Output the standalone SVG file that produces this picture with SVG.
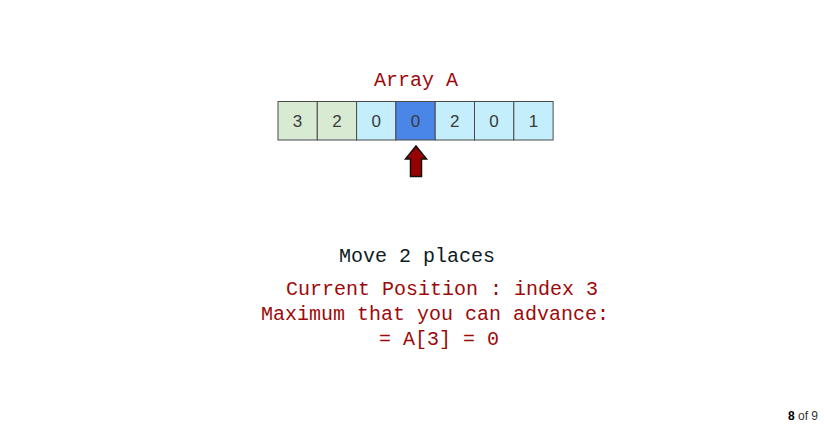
<svg xmlns="http://www.w3.org/2000/svg" width="824" height="430" viewBox="0 0 824 430">
<style>
.cell{stroke:#4a4a4a;stroke-width:1}
.g{fill:#d9ead3}.b{fill:#c4eefb}.d{fill:#4a86e8}
.num{font-family:"Liberation Sans",Arial,sans-serif;font-size:17px;fill:#3a3a3a;text-anchor:middle}
.mono{font-family:"Liberation Mono","Courier New",monospace;font-size:20px}
.red{fill:#9c0a0a}
.pg{font-family:"Liberation Sans",Arial,sans-serif;font-size:12px;fill:#333}
</style>
<rect width="824" height="430" fill="#ffffff"/>
<text id="title" class="mono red" x="374" y="86">Array A</text>
<g id="array">
<g id="c0"><rect class="cell g" x="278" y="101.5" width="39.3" height="38.5"/><text class="num" x="297.6" y="127">3</text></g>
<g id="c1"><rect class="cell g" x="317.3" y="101.5" width="39.3" height="38.5"/><text class="num" x="336.9" y="127">2</text></g>
<g id="c2"><rect class="cell b" x="356.6" y="101.5" width="39.3" height="38.5"/><text class="num" x="376.2" y="127">0</text></g>
<g id="c3"><rect class="cell d" x="395.9" y="101.5" width="39.3" height="38.5"/><text class="num" x="415.5" y="127">0</text></g>
<g id="c4"><rect class="cell b" x="435.2" y="101.5" width="39.3" height="38.5"/><text class="num" x="454.8" y="127">2</text></g>
<g id="c5"><rect class="cell b" x="474.5" y="101.5" width="39.3" height="38.5"/><text class="num" x="494.1" y="127">0</text></g>
<g id="c6"><rect class="cell b" x="513.8" y="101.5" width="39.3" height="38.5"/><text class="num" x="533.4" y="127">1</text></g>
</g>
<g id="pointer">
<polygon points="416,146 426.5,159 421.5,159 421.5,176.5 410.5,176.5 410.5,159 405.5,159" fill="#990000" stroke="#111" stroke-width="1.5" stroke-linejoin="miter"/>
</g>
<g id="texts">
<text class="mono" x="339" y="262" fill="#0d1b24">Move 2 places</text>
<text class="mono red" x="286" y="295">Current Position : index 3</text>
<text class="mono red" x="261" y="320">Maximum that you can advance:</text>
<text class="mono red" x="379" y="345">= A[3] = 0</text>
</g>
<text id="pager" class="pg" x="818" y="420" text-anchor="end"><tspan font-weight="bold" fill="#000">8</tspan> of 9</text>
</svg>
